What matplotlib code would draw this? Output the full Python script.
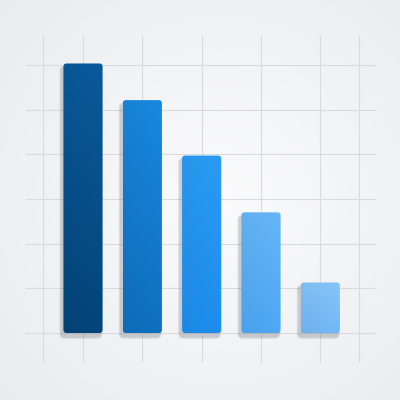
import numpy as np
import matplotlib
matplotlib.use("Agg")
import matplotlib.pyplot as plt
from matplotlib.patches import FancyBboxPatch
from matplotlib.colors import to_rgb

# ---- data ----
categories = ["A", "B", "C", "D", "E"]
values = [6.03, 5.21, 3.97, 2.70, 1.13]
top_colors = ["#0a5a9c", "#1888e0", "#2a9cf5", "#66b6f8", "#86c5fb"]
bottom_colors = ["#03457a", "#0f70c0", "#1d8eee", "#4ea8f5", "#72b8f8"]
h_grid = [0, 1, 2, 3, 4, 5, 6]
v_grid = [-0.68, 0, 1, 2, 3, 4, 4.65]

fig = plt.figure(figsize=(4, 4), dpi=100)
ax = fig.add_axes([0, 0, 1, 1])
xlim = (-1.399, 5.343)
ylim = (-1.499, 7.45)
ax.set_xlim(*xlim)
ax.set_ylim(*ylim)
ax.axis("off")

# background gradient
yy, xx = np.mgrid[0:1:200j, 0:1:200j]
r = np.sqrt((xx - 0.55) ** 2 + (yy - 0.5) ** 2)
bg_lo = np.array(to_rgb("#fbfbfc"))
bg_hi = np.array(to_rgb("#e9ebee"))
t = np.clip(r / 0.75, 0, 1)[..., None]
bg = bg_lo * (1 - t) + bg_hi * t
ax.imshow(bg, extent=(*xlim, *ylim), origin="lower", aspect="auto", zorder=0)

# grid
ax.hlines(h_grid, -0.978, 4.94, color="#d9dbde", lw=0.8, zorder=1)
ax.vlines(v_grid, -0.65, 6.67, color="#d9dbde", lw=0.8, zorder=1)

x = np.arange(len(categories))
bars = ax.bar(x, values, width=0.66, zorder=2)

aspect = 59.33 / 44.7
rad = 0.055
for i, b in enumerate(bars):
    bx, by, bw, bh = b.get_x(), b.get_y(), b.get_width(), b.get_height()
    b.remove()
    # soft shadow
    for k in range(6):
        grow = 0.012 * (k + 1)
        sh = FancyBboxPatch((bx + rad - 0.035 - grow / 2, by + rad * aspect - 0.09 - grow * aspect / 2),
                            bw - 2 * rad + grow, bh - 2 * rad * aspect + grow * aspect,
                            boxstyle=f"round,pad={rad},rounding_size={rad + grow / 2}",
                            mutation_aspect=aspect, fc="#1a2a40", ec="none",
                            alpha=0.035, zorder=2)
        ax.add_patch(sh)
    patch = FancyBboxPatch((bx + rad, by + rad * aspect), bw - 2 * rad, bh - 2 * rad * aspect,
                           boxstyle=f"round,pad={rad},rounding_size={rad}",
                           mutation_aspect=aspect, fc="none", ec="none", zorder=3)
    ax.add_patch(patch)
    c0 = np.array(to_rgb(bottom_colors[i]))
    c1 = np.array(to_rgb(top_colors[i]))
    g = np.linspace(0, 1, 100)[:, None, None]
    gx = np.linspace(0, 1, 20)[None, :, None]
    img = c0 * (1 - g) + c1 * g
    img = img * (0.96 + 0.04 * gx)
    img = np.clip(img, 0, 1)
    im = ax.imshow(img, extent=(bx, bx + bw, by, by + bh), origin="lower",
                   aspect="auto", zorder=3)
    im.set_clip_path(patch)

ax.set_xlim(*xlim)
ax.set_ylim(*ylim)
fig.savefig("out.png", dpi=100)
